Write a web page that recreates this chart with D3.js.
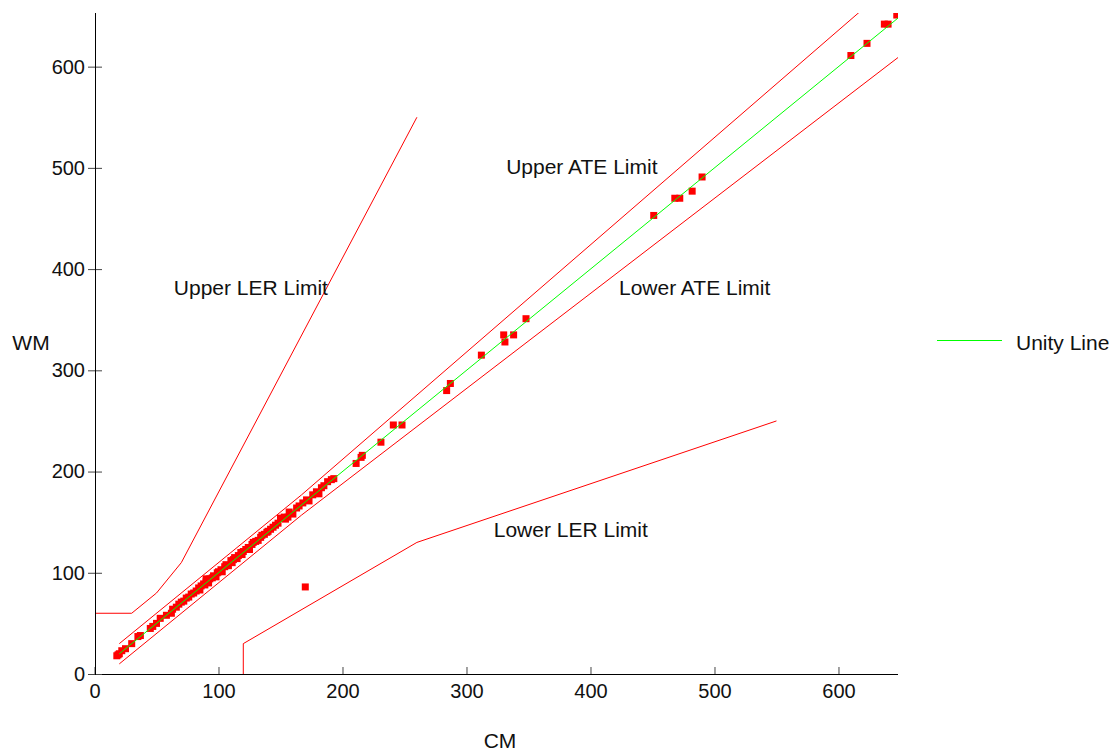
<!DOCTYPE html>
<html>
<head>
<meta charset="utf-8">
<script src="https://cdn.jsdelivr.net/npm/d3@7"></script>
<style>
  body { margin: 0; background: #fff; }
  text { font-family: "Liberation Sans", Arial, sans-serif; fill: #111; }
</style>
</head>
<body>
<div id="chart"></div>
<script>
// measured points (CM, WM)
var cm = [18,19,20,22,25,30,35,37,45,47,50,53,58,62,63,66,68,70,72,74,76,78,80,82,84,85,86,88,89,90,90,92,93,95,96,98,99,100,102,103,105,106,108,110,111,112,113,115,116,118,119,120,122,124,125,127,128,130,132,134,135,137,139,140,142,144,146,148,150,153,154,156,157,160,163,165,168,171,173,176,179,181,183,185,188,191,193,
  170,211,215,216,231,241,248,284,287,312,330,331,338,348,451,468,472,482,490,610,623,637,640,647];
var wm = [18,19,20,23,25,30,37,38,45,47,50,55,58,60,64,66,69,71,72,75,76,79,80,82,85,83,87,89,88,94,91,90,94,95,97,96,100,101,103,101,106,108,107,112,110,113,115,114,117,120,118,121,123,125,123,128,130,131,132,135,137,138,140,141,143,145,147,149,154,155,153,155,160,158,164,166,169,172,171,177,180,178,184,186,190,192,193,
  86,208,214,216,229,246,246,280,287,315,335,328,335,351,453,470,470,477,491,611,623,642,642,651];

// reference / limit lines
var unityLine = [[20,20],[648,648]];
var upperATE = [[20,30],[167,177],[650,689]];
var lowerATE = [[20,10],[167,157],[648,609]];
var upperLER = [[0,60],[30,60],[50,80],[70,110],[260,550]];
var lowerLER = [[120,0],[120,30],[260,130],[550,250]];

var xTicks = [0,100,200,300,400,500,600];
var yTicks = [0,100,200,300,400,500,600];

var labels = [
  {text:"Upper ATE Limit", x:332, y:494},
  {text:"Lower ATE Limit", x:423, y:374},
  {text:"Upper LER Limit", x:64, y:374},
  {text:"Lower LER Limit", x:322, y:135}
];

var W = 1109, H = 752;
var svg = d3.select("#chart").append("svg").attr("width", W).attr("height", H);

var x = d3.scaleLinear().domain([0,648]).range([94.5,898]);
var y = d3.scaleLinear().domain([0,653]).range([674,13]);

svg.append("clipPath").attr("id","clip").append("rect")
  .attr("x",95).attr("y",13).attr("width",803).attr("height",661);

var line = d3.line().x(function(d){return x(d[0])}).y(function(d){return y(d[1])});

var plot = svg.append("g").attr("clip-path","url(#clip)");

[upperATE, lowerATE, upperLER, lowerLER].forEach(function(l){
  plot.append("path").attr("d", line(l)).attr("fill","none").attr("stroke","#ff0000").attr("stroke-width",1);
});

// points
var pts = cm.map(function(v,i){return [v, wm[i]]});
plot.selectAll("rect.pt").data(pts).enter().append("rect")
  .attr("class","pt")
  .attr("x", function(d){return x(d[0])-3.5})
  .attr("y", function(d){return y(d[1])-3.5})
  .attr("width",7).attr("height",7)
  .attr("fill","#ff0000");

plot.append("path").attr("d", line(unityLine)).attr("fill","none").attr("stroke","#00ff00").attr("stroke-width",1);

// axes
var xAxis = d3.axisBottom(x).tickValues(xTicks).tickSize(0).tickPadding(10);
var gx = svg.append("g").attr("transform","translate(0,674)").call(xAxis);
gx.select(".domain").remove();
gx.selectAll("text").attr("font-size",20).attr("font-family","Liberation Sans, Arial, sans-serif").attr("fill","#111");
gx.selectAll(".tick").append("line").attr("y1",-7).attr("y2",0).attr("stroke","#444");
svg.append("line").attr("x1",94.5).attr("x2",898).attr("y1",674.5).attr("y2",674.5).attr("stroke","#000");

var yAxis = d3.axisLeft(y).tickValues(yTicks).tickSize(0).tickPadding(10);
var gy = svg.append("g").attr("transform","translate(95,0)").call(yAxis);
gy.select(".domain").remove();
gy.selectAll("text").attr("font-size",20).attr("font-family","Liberation Sans, Arial, sans-serif").attr("fill","#111");
gy.selectAll(".tick").append("line").attr("x1",-7).attr("x2",7).attr("stroke","#444");
svg.append("line").attr("x1",95.5).attr("x2",95.5).attr("y1",13).attr("y2",675).attr("stroke","#000");

svg.append("text").attr("x",31).attr("y",350).attr("text-anchor","middle").attr("font-size",21).text("WM");
svg.append("text").attr("x",500).attr("y",748).attr("text-anchor","middle").attr("font-size",21).text("CM");

svg.selectAll("text.lbl").data(labels).enter().append("text")
  .attr("class","lbl")
  .attr("x", function(d){return x(d.x)})
  .attr("y", function(d){return y(d.y)})
  .attr("font-size",21)
  .text(function(d){return d.text});

// legend
svg.append("line").attr("x1",937).attr("x2",1002).attr("y1",340.5).attr("y2",340.5).attr("stroke","#00ff00");
svg.append("text").attr("x",1016).attr("y",350).attr("font-size",21).text("Unity Line");
</script>
</body>
</html>
